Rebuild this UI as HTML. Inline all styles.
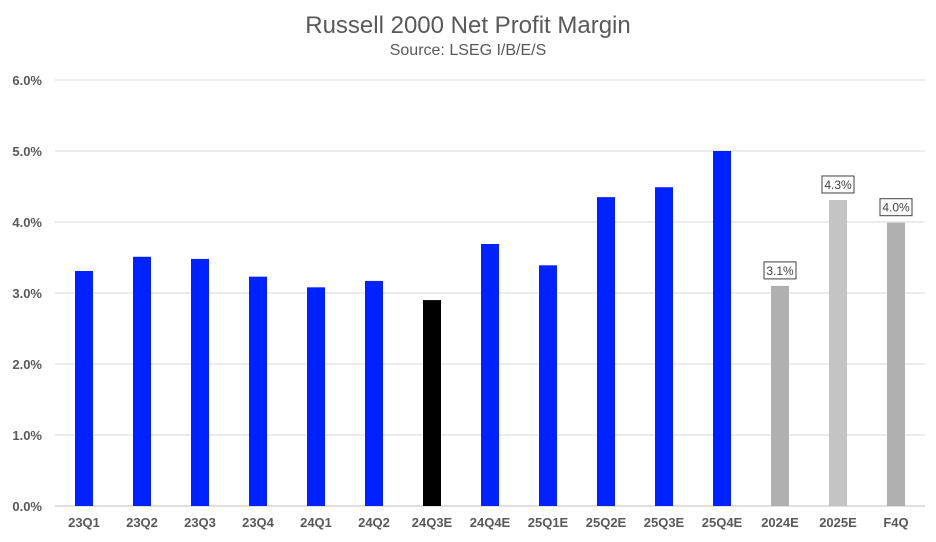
<!DOCTYPE html>
<html><head><meta charset="utf-8"><style>
body{margin:0;background:#fff;font-family:"Liberation Sans",sans-serif;}
</style></head><body>
<svg width="936" height="537" xmlns="http://www.w3.org/2000/svg">
<text x="468" y="33" text-anchor="middle" font-size="24" fill="#595959">Russell 2000 Net Profit Margin</text>
<text x="468" y="55" text-anchor="middle" font-size="16" fill="#595959">Source: LSEG I/B/E/S</text>
<g id="grid"></g><g id="bars"></g><g id="labels"></g>
</svg>
<script>
const categories=["23Q1","23Q2","23Q3","23Q4","24Q1","24Q2","24Q3E","24Q4E","25Q1E","25Q2E","25Q3E","25Q4E","2024E","2025E","F4Q"];
const values=[3.31,3.51,3.48,3.23,3.08,3.17,2.90,3.69,3.39,4.35,4.49,5.0,3.1,4.31,3.99];
const colors=["#0022ff","#0022ff","#0022ff","#0022ff","#0022ff","#0022ff","#000000","#0022ff","#0022ff","#0022ff","#0022ff","#0022ff","#b0b0b0","#c4c4c4","#b0b0b0"];
const showLabel=[0,0,0,0,0,0,0,0,0,0,0,0,1,1,1];
const yTicks=[0,1,2,3,4,5,6];
const NS="http://www.w3.org/2000/svg";
const y=v=>506-v*71;
const x=i=>84+i*58.0;
function mk(t,a,p){const e=document.createElementNS(NS,t);for(const k in a)e.setAttribute(k,a[k]);p.appendChild(e);return e;}
const g=document.getElementById('grid'),b=document.getElementById('bars'),l=document.getElementById('labels');
yTicks.forEach(t=>{
 const ln=mk('line',{x1:55,x2:925,y1:y(t),y2:y(t),stroke:t===0?'#bfbfbf':'#d9d9d9','stroke-width':1},g);
 
 
 const tx=mk('text',{x:42,y:y(t)+5,'text-anchor':'end','font-size':13,'font-weight':'bold',fill:'#595959'},g);
 tx.textContent=t.toFixed(1)+'%';
 
 
});
categories.forEach((c,i)=>{
 const r=mk('rect',{x:x(i)-9,y:y(values[i]),width:18,height:values[i]*71,fill:colors[i]},b);
 
 
 const tx=mk('text',{x:x(i),y:527,'text-anchor':'middle','font-size':13,'font-weight':'bold',fill:'#595959'},l);
 tx.textContent=c;
 
 
 if(showLabel[i]){
  const yy=y(values[i])-24;
  const bx=mk('rect',{x:x(i)-16,y:yy,width:32,height:17,fill:'#fff',stroke:'#404040','stroke-width':1},l);
  
  
  const dl=mk('text',{x:x(i),y:yy+13,'text-anchor':'middle','font-size':12,fill:'#404040'},l);
  dl.textContent=values[i].toFixed(1)+'%';
  
  
 }
});
</script>
</body></html>
